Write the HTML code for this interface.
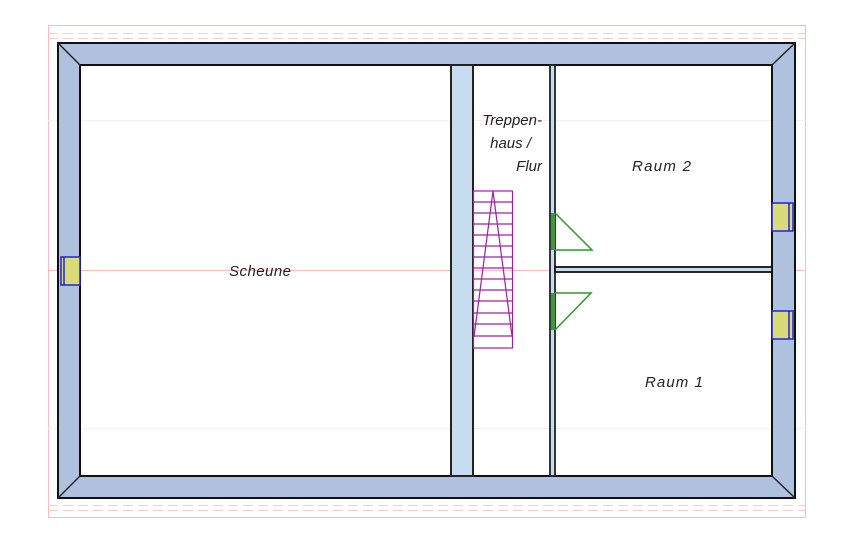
<!DOCTYPE html>
<html><head><style>body{margin:0;background:#fff}</style></head><body>
<svg width="866" height="538" xmlns="http://www.w3.org/2000/svg" font-family="Liberation Sans, sans-serif">
<g stroke="#fbb" stroke-width="1" fill="none">
<rect x="48.5" y="25.5" width="757" height="492"/>
<line x1="48" y1="33.5" x2="806" y2="33.5" stroke-dasharray="10,5" stroke="#fcc"/>
<line x1="48" y1="38.5" x2="806" y2="38.5" stroke-dasharray="10,5" stroke="#fcc"/>
<line x1="48" y1="505.5" x2="806" y2="505.5" stroke-dasharray="10,5" stroke="#fcc"/>
<line x1="48" y1="510.5" x2="806" y2="510.5" stroke-dasharray="10,5" stroke="#fcc"/>
<line x1="48" y1="270.5" x2="806" y2="270.5"/>
<line x1="48" y1="120.5" x2="806" y2="120.5" stroke="#fee"/>
<line x1="48" y1="428.5" x2="806" y2="428.5" stroke="#fee"/>
</g>
<path d="M58,43H795V498H58Z M80,65V476H772V65Z" fill="#b0c0df" fill-rule="evenodd" stroke="#111" stroke-width="2"/>
<g stroke="#222" stroke-width="1.5"><line x1="58" y1="43" x2="80" y2="65"/><line x1="795" y1="43" x2="772" y2="65"/><line x1="58" y1="498" x2="80" y2="476"/><line x1="795" y1="498" x2="772" y2="476"/></g>
<rect x="451" y="65" width="22" height="411" fill="#c8dcef" stroke="#222" stroke-width="2"/>
<rect x="550" y="65" width="5" height="411" fill="#c8dcef" stroke="#222" stroke-width="1.8"/>
<rect x="555" y="267" width="217" height="5" fill="#c8dcef" stroke="#111" stroke-width="1.8"/>
<g stroke="#2020e0" stroke-width="1.5" fill="#d8dc78">
<rect x="61" y="257" width="19" height="28"/><line x1="64" y1="257" x2="64" y2="285"/>
<rect x="772" y="203" width="21" height="28"/><line x1="789" y1="203" x2="789" y2="231"/>
<rect x="772" y="311" width="21" height="28"/><line x1="789" y1="311" x2="789" y2="339"/>
</g>
<g stroke="#a020a0" stroke-width="1.2" fill="none">
<rect x="473.5" y="191" width="39" height="157"/>
<path d="M473,202H513M473,213H513M473,224H513M473,235H513M473,246H513M473,257H513M473,268H513M473,279H513M473,290H513M473,301H513M473,313H513M473,324H513M473,336H513"/>
<path d="M474,337L493,191L512,336"/>
</g>
<g stroke="#2a9a2a" stroke-width="1.5" fill="none">
<path d="M555,213L592,250H555"/><path d="M555,330L591,293H555"/>
</g>
<rect x="551" y="213" width="4" height="37" fill="#3a9a3a"/>
<rect x="551" y="293" width="4" height="37" fill="#3a9a3a"/>
<g font-style="italic" font-size="15" fill="#222">
<text x="229" y="276" textLength="62">Scheune</text>
<text x="632" y="171" textLength="59">Raum 2</text>
<text x="645" y="387" textLength="58">Raum 1</text>
<text x="542" y="125" text-anchor="end">Treppen-</text>
<text x="531" y="148" text-anchor="end">haus /</text>
<text x="542" y="171" text-anchor="end">Flur</text>
</g>
</svg>
</body></html>
